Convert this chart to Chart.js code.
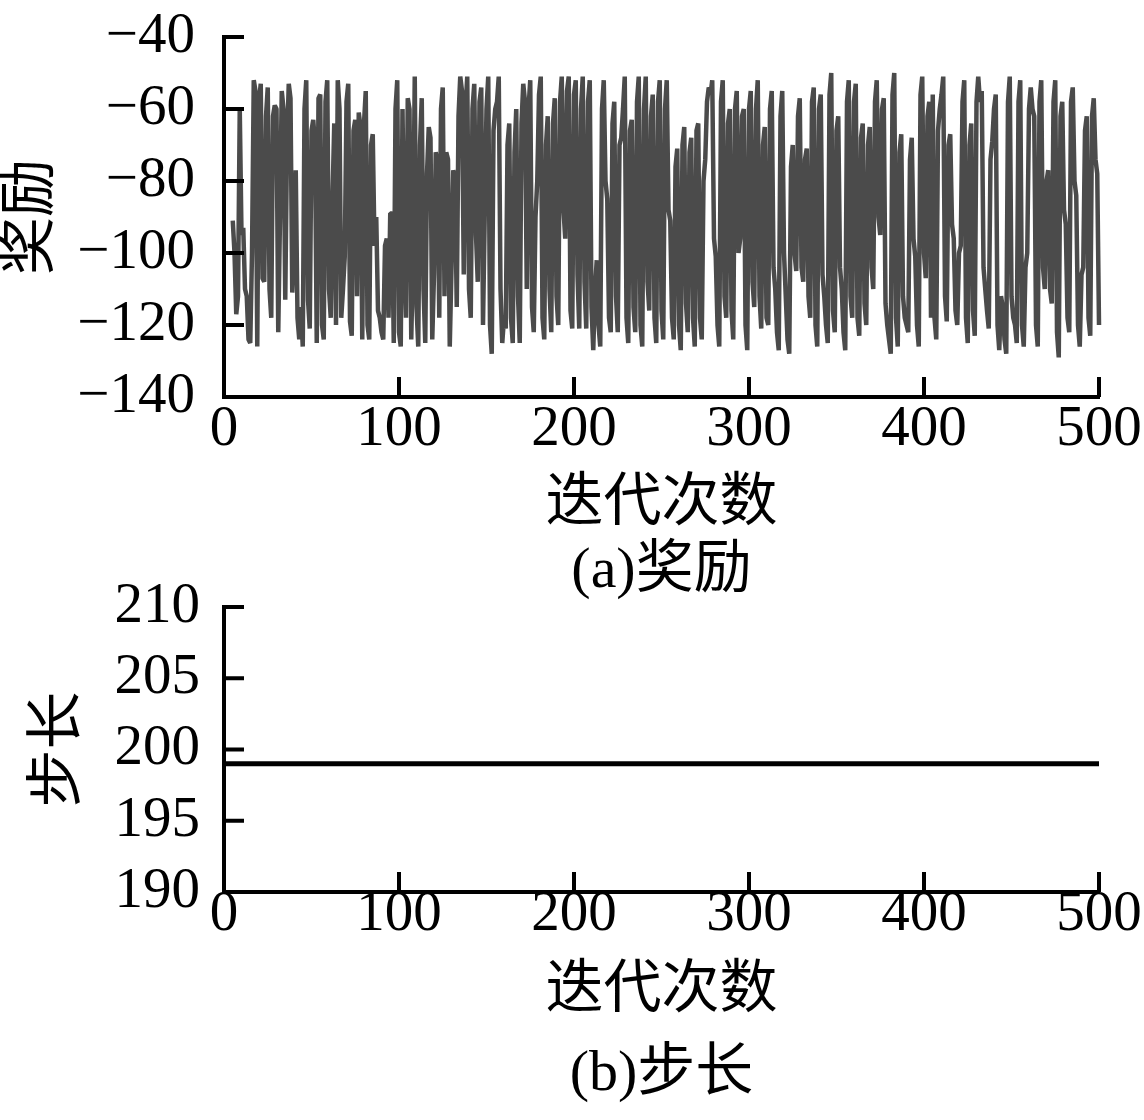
<!DOCTYPE html>
<html>
<head>
<meta charset="utf-8">
<script src="https://cdn.jsdelivr.net/npm/chart.js@4.4.1/dist/chart.umd.min.js"></script>
<style>
  html, body { margin: 0; padding: 0; background: #ffffff; }
  body { width: 1144px; height: 1120px; position: relative; overflow: hidden; }
  canvas { position: absolute; left: 0; }
  #c1 { top: 0; }
  #c2 { top: 560px; }
</style>
</head>
<body>
<canvas id="c1" width="1144" height="620"></canvas>
<canvas id="c2" width="1144" height="560"></canvas>
<script>
// ---------------- data ----------------
// reward per iteration, iterations 5 .. 505 (one value per iteration)
const rewardStartIteration = 5;
const rewardIterationStep = 1;
const rewardSeg1 = [ // 5 .. 103
  -91,-100,-117,-112,-60,-95,-93,-110,-112,-124,
  -125,-100,-52,-55,-126,-58,-53,-107,-108,-62,
  -54,-110,-118,-62,-59,-60,-122,-90,-55,-60,
  -113,-70,-53,-57,-111,-100,-77,-118,-124,-115,
  -126,-60,-52,-113,-121,-66,-63,-70,-125,-57,
  -56,-120,-124,-58,-52,-110,-118,-85,-64,-120,
  -52,-60,-118,-110,-101,-58,-53,-119,-123,-66,
  -63,-112,-61,-65,-124,-64,-55,-120,-124,-70,
  -67,-98,-90,-116,-118,-122,-124,-98,-96,-118,
  -89,-89,-125,-60,-52,-122,-126,-60,-101];
const rewardSeg2 = [ // 104 .. 203
  -118,-57,-60,-124,-100,-51,-115,-126,-70,-57,
  -110,-125,-78,-65,-68,-124,-106,-72,-75,-118,
  -60,-54,-112,-72,-74,-126,-104,-77,-80,-115,
  -62,-51,-55,-106,-60,-51,-110,-118,-60,-53,
  -95,-108,-58,-54,-120,-89,-60,-51,-120,-128,
  -66,-60,-58,-51,-110,-125,-118,-121,-70,-64,
  -118,-125,-72,-60,-112,-125,-64,-53,-58,-110,
  -60,-52,-115,-122,-90,-80,-56,-51,-118,-124,
  -70,-62,-110,-122,-64,-57,-112,-120,-58,-51,
  -88,-96,-55,-51,-116,-121,-56,-52,-106,-121];
const rewardSeg3 = [ // 204 .. 303
  -60,-51,-108,-121,-58,-52,-115,-127,-110,-102,
  -120,-126,-60,-52,-80,-85,-118,-122,-64,-58,
  -112,-122,-70,-68,-60,-51,-118,-125,-66,-63,
  -115,-122,-58,-51,-120,-126,-60,-51,-108,-116,
  -62,-56,-118,-125,-58,-52,-116,-124,-60,-52,
  -88,-91,-118,-124,-76,-71,-120,-127,-70,-65,
  -114,-122,-72,-68,-118,-126,-66,-64,-118,-124,
  -80,-74,-58,-54,-56,-52,-96,-101,-120,-126,
  -58,-52,-112,-118,-64,-60,-116,-124,-60,-55,
  -100,-96,-62,-60,-120,-127,-60,-55,-108,-115];
const rewardSeg4 = [ // 304 .. 403
  -60,-52,-112,-121,-70,-65,-118,-120,-60,-55,
  -104,-110,-122,-127,-62,-55,-100,-112,-124,-128,
  -76,-70,-100,-105,-62,-57,-104,-108,-74,-71,
  -112,-118,-58,-54,-120,-126,-60,-56,-106,-112,
  -120,-125,-56,-50,-116,-122,-66,-62,-104,-110,
  -122,-127,-58,-52,-112,-118,-58,-53,-118,-123,
  -68,-64,-114,-120,-70,-65,-104,-110,-58,-52,
  -90,-95,-60,-57,-114,-120,-124,-128,-56,-50,
  -118,-126,-72,-67,-112,-118,-120,-122,-74,-68,
  -96,-101,-120,-126,-56,-51,-100,-107,-62,-58];
const rewardSeg5 = [ // 404 .. 505
  -118,-56,-118,-124,-66,-60,-56,-51,-112,-119,
  -70,-67,-92,-96,-116,-120,-100,-98,-58,-52,
  -118,-125,-70,-64,-116,-123,-58,-51,-58,-55,
  -104,-110,-116,-121,-74,-69,-60,-56,-120,-127,
  -112,-115,-124,-128,-58,-51,-112,-118,-120,-125,
  -58,-52,-120,-126,-104,-100,-60,-54,-60,-62,
  -120,-126,-58,-52,-104,-110,-80,-77,-110,-114,
  -58,-52,-122,-129,-62,-58,-88,-92,-118,-122,
  -58,-54,-80,-84,-120,-126,-106,-104,-66,-62,
  -118,-123,-62,-57,-74,-78,-120,-125,-58,-51,
  -84,-88];

// step length (constant)
const stepIterations = [0, 500];
const stepValues = [199, 199];

const xTicks = [0, 100, 200, 300, 400, 500];
const rewardYTicks = [-140, -120, -100, -80, -60, -40];
const stepYTicks = [190, 195, 200, 205, 210];

const xTitle = '迭代次数';
const captionA = '(a)奖励';
const captionB = '(b)步长';
const yTitleA = '奖励';
const yTitleB = '步长';

// ---------------- build ----------------
const rewardValues = [].concat(rewardSeg1, rewardSeg2, rewardSeg3, rewardSeg4, rewardSeg5);
const rewardPoints = rewardValues.map((v, i) => ({ x: rewardStartIteration + i * rewardIterationStep, y: v }));
const stepPoints = stepIterations.map((x, i) => ({ x: x, y: stepValues[i] }));

const FONT = '"Liberation Serif", "Noto Sans CJK SC", serif';
const fmt = v => (v < 0 ? '\u2212' + Math.abs(v) : String(v));

const innerTicks = {
  id: 'innerTicks',
  afterDraw(chart) {
    const ctx = chart.ctx;
    const xs = chart.scales.x, ys = chart.scales.y;
    const len = 20;
    ctx.save();
    ctx.strokeStyle = '#000';
    ctx.lineWidth = 4;
    ctx.lineCap = 'butt';
    ctx.beginPath();
    xs.ticks.forEach(t => {
      const px = xs.getPixelForValue(t.value);
      ctx.moveTo(px, xs.top);
      ctx.lineTo(px, xs.top - len);
    });
    ys.ticks.forEach(t => {
      const py = ys.getPixelForValue(t.value);
      ctx.moveTo(ys.right, py);
      ctx.lineTo(ys.right + len, py);
    });
    ctx.stroke();
    ctx.restore();
  }
};

function zeroPad(s) { s.paddingTop = 0; s.paddingBottom = 0; s.paddingLeft = 0; s.paddingRight = 0; }

function makeChart(canvasId, cfg) {
  const H = cfg.canvasHeight;
  return new Chart(document.getElementById(canvasId), {
    type: 'line',
    data: {
      datasets: [{
        data: cfg.points,
        borderColor: cfg.lineColor,
        borderWidth: cfg.lineWidth,
        borderJoinStyle: 'bevel',
        pointRadius: 0,
        tension: 0,
        fill: false,
        clip: false
      }]
    },
    options: {
      responsive: false,
      animation: false,
      devicePixelRatio: 1,
      layout: { padding: { left: 0, right: 45, top: cfg.padTop, bottom: 0 } },
      plugins: { legend: { display: false }, tooltip: { enabled: false } },
      scales: {
        x: {
          type: 'linear',
          min: 0, max: 500,
          afterBuildTicks: s => { s.ticks = xTicks.map(v => ({ value: v })); },
          afterFit: s => { s.height = H - cfg.plotBottom; zeroPad(s); },
          grid: { display: true, drawOnChartArea: false, drawTicks: false },
          border: { display: true, color: '#000', width: 4 },
          ticks: { color: '#000', padding: cfg.xTickPad, maxRotation: 0, autoSkip: false,
            font: { family: FONT, size: 57, lineHeight: 1.2 }, callback: v => fmt(v) },
          title: { display: true, text: [xTitle, cfg.caption], color: '#000',
            font: { family: FONT, size: 58, lineHeight: cfg.titleLH + 'px' },
            padding: { top: 0, bottom: cfg.titlePadBottom } }
        },
        y: {
          type: 'linear',
          min: cfg.yTicks[0], max: cfg.yTicks[cfg.yTicks.length - 1],
          afterBuildTicks: s => { s.ticks = cfg.yTicks.map(v => ({ value: v })); },
          afterFit: s => { s.width = 224; zeroPad(s); },
          grid: { display: true, drawOnChartArea: false, drawTicks: false },
          border: { display: true, color: '#000', width: 4 },
          ticks: { color: '#000', padding: cfg.yTickPad, autoSkip: false,
            font: { family: FONT, size: 57, lineHeight: 1.2 }, callback: v => fmt(v) },
          title: { display: true, text: cfg.yTitle, color: '#000',
            font: { family: FONT, size: 58, lineHeight: '66px' },
            padding: { top: cfg.yTitlePadTop, bottom: 0 } }
        }
      }
    },
    plugins: [innerTicks]
  });
}

makeChart('c1', {
  canvasHeight: 620, padTop: 37, plotBottom: 397,
  points: rewardPoints, lineColor: '#4b4b4b', lineWidth: 4.5,
  yTicks: rewardYTicks, yTitle: yTitleA, yTitlePadTop: 0,
  caption: captionA, titleLH: 67, titlePadBottom: 14.5,
  xTickPad: -1, yTickPad: 29
});

makeChart('c2', {
  canvasHeight: 560, padTop: 47, plotBottom: 332,
  points: stepPoints, lineColor: '#000', lineWidth: 5,
  yTicks: stepYTicks, yTitle: yTitleB, yTitlePadTop: 27,
  caption: captionB, titleLH: 83, titlePadBottom: 3.5,
  xTickPad: -11, yTickPad: 24
});
</script>
</body>
</html>
